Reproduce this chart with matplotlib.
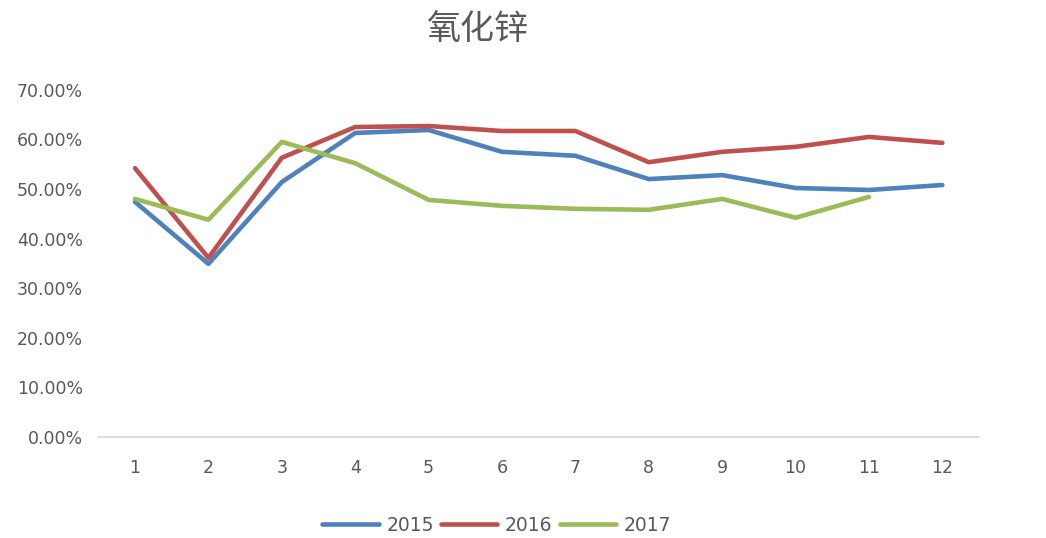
import matplotlib.pyplot as plt
from matplotlib.ticker import PercentFormatter

# monthly ratio of zinc oxide
months = list(range(1, 13))
y2015 = [0.474, 0.349, 0.514, 0.613, 0.619, 0.575, 0.567, 0.520, 0.528, 0.502, 0.498, 0.508]
y2016 = [0.542, 0.361, 0.563, 0.625, 0.627, 0.617, 0.617, 0.554, 0.575, 0.585, 0.605, 0.593]
y2017 = [0.480, 0.438, 0.595, 0.552, 0.478, 0.466, 0.460, 0.458, 0.480, 0.442, 0.484]
series = [('2015', y2015, '#4F81BD'), ('2016', y2016, '#C0504D'), ('2017', y2017, '#9BBB59')]
yticks = [0, 0.1, 0.2, 0.3, 0.4, 0.5, 0.6, 0.7]

plt.rcParams['font.family'] = ['DejaVu Sans', 'Noto Sans CJK SC']

fig = plt.figure(figsize=(10.46, 5.38), dpi=100)
ax = fig.add_axes([0.094, 0.188, 0.842, 0.645])

for name, vals, col in series:
  ax.plot(months[:len(vals)], vals, color=col, linewidth=3.3, label=name,
          solid_joinstyle='round', solid_capstyle='round')

ax.set_xlim(0.5, 12.5)
ax.set_ylim(0, 0.7)
ax.set_xticks(months)
ax.set_yticks(yticks)
ax.yaxis.set_major_formatter(PercentFormatter(1.0, decimals=2))

for side in ['top', 'right', 'left']:
  ax.spines[side].set_visible(False)
ax.spines['bottom'].set_color('#d9d9d9')
ax.spines['bottom'].set_linewidth(1.2)
ax.tick_params(axis='both', length=0, labelsize=12.5, labelcolor='#595959')
ax.tick_params(axis='x', pad=16)
ax.tick_params(axis='y', pad=11)

fig.suptitle('氧化锌', x=0.456, y=0.978, fontsize=24.5, color='#595959',
             family=['Noto Sans CJK SC', 'DejaVu Sans'])

fig.legend(loc='center', bbox_to_anchor=(0.475, 0.024), ncol=3, frameon=False,
           fontsize=13.5, handlelength=3.0, handletextpad=0.4, columnspacing=0.4,
           labelcolor='#595959')

fig.savefig('out.png')
plt.close()
